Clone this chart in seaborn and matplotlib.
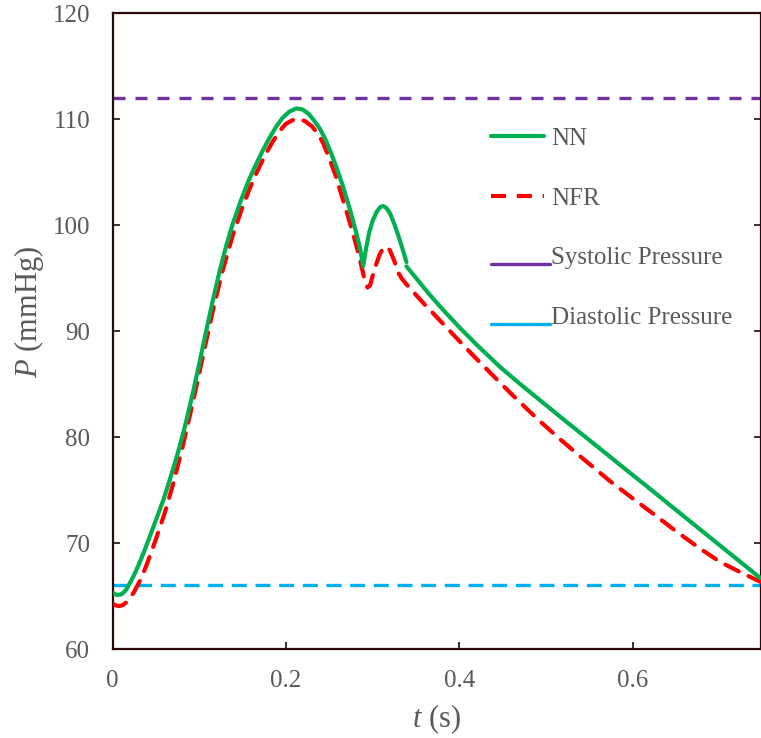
import numpy as np
import pandas as pd
import matplotlib
matplotlib.use("Agg")
import matplotlib.pyplot as plt
import seaborn as sns
from matplotlib.lines import Line2D
from matplotlib.legend_handler import HandlerLine2D

# ---------------- data ----------------
nn_t1 = [0.000, 0.005, 0.010, 0.015, 0.020, 0.025, 0.030, 0.036, 0.043, 0.050,
         0.0586, 0.066, 0.074, 0.082, 0.092, 0.100, 0.108, 0.116, 0.124, 0.131,
         0.139, 0.148, 0.157, 0.166, 0.175, 0.183, 0.189, 0.196, 0.204, 0.212,
         0.219, 0.226, 0.233, 0.239, 0.246, 0.252, 0.258, 0.266, 0.274, 0.281,
         0.286, 0.289, 0.292, 0.296, 0.300, 0.305, 0.309, 0.312, 0.316, 0.320,
         0.325, 0.330, 0.335, 0.339]
nn_p1 = [65.3, 65.1, 65.15, 65.5, 66.2, 67.0, 67.9, 69.1, 70.6, 72.15,
         74.05, 75.95, 78.1, 80.5, 83.9, 86.9, 90.0, 93.0, 95.8, 98.0,
         100.2, 102.3, 104.2, 105.8, 107.3, 108.5, 109.3, 110.1, 110.7, 111.0,
         110.9, 110.5, 109.8, 109.1, 108.0, 106.8, 105.5, 103.6, 101.4, 99.3,
         97.6, 96.1, 97.6, 99.3, 100.4, 101.3, 101.7, 101.8, 101.6, 101.1,
         100.1, 98.9, 97.6, 96.5]
nn_t2 = [0.339, 0.350, 0.365, 0.380, 0.400, 0.420, 0.447, 0.470, 0.500, 0.524,
         0.550, 0.575, 0.597, 0.620, 0.650, 0.675, 0.700, 0.725, 0.747]
nn_p2 = [96.1, 95.0, 93.5, 92.1, 90.35, 88.7, 86.6, 85.0, 83.0, 81.4,
         79.7, 78.05, 76.6, 75.1, 73.1, 71.45, 69.8, 68.15, 66.7]

nfr_t = [0.000, 0.004, 0.008, 0.012, 0.016, 0.020, 0.025, 0.032, 0.038, 0.043,
         0.050, 0.0605, 0.070, 0.080, 0.088, 0.096, 0.106, 0.116, 0.127, 0.139,
         0.150, 0.158, 0.166, 0.176, 0.185, 0.193, 0.200, 0.208, 0.215, 0.222,
         0.230, 0.237, 0.243, 0.250, 0.258, 0.266, 0.272, 0.278, 0.283, 0.288,
         0.291, 0.294, 0.297, 0.300, 0.3045, 0.308, 0.312, 0.316, 0.320, 0.325,
         0.3295, 0.334, 0.339, 0.350, 0.360, 0.370, 0.385, 0.400, 0.420, 0.443,
         0.462, 0.490, 0.516, 0.539, 0.5735, 0.600, 0.6196, 0.650, 0.677, 0.700,
         0.725, 0.747]
nfr_p = [64.3, 64.1, 64.05, 64.15, 64.4, 64.8, 65.4, 66.5, 67.65, 68.75,
         70.35, 72.9, 75.6, 78.8, 81.6, 84.5, 88.3, 92.0, 95.7, 99.1,
         101.7, 103.4, 104.9, 106.6, 107.9, 108.9, 109.55, 109.9, 110.0, 109.8,
         109.3, 108.6, 107.7, 106.3, 104.5, 102.3, 100.7, 99.0, 97.5, 95.8,
         94.7, 94.1, 94.3, 95.2, 96.4, 97.2, 97.8, 97.95, 97.6, 96.6,
         95.5, 94.9, 94.4, 93.4, 92.5, 91.65, 90.35, 89.05, 87.35, 85.45,
         83.9, 81.7, 79.8, 78.2, 75.85, 74.2, 73.0, 71.1, 69.5, 68.25,
         67.2, 66.35]

systolic = 112
diastolic = 66

x_ticks = [0, 0.2, 0.4, 0.6]
x_tick_labels = ["0", "0.2", "0.4", "0.6"]
y_ticks = [60, 70, 80, 90, 100, 110, 120]
labels = ["NN", "NFR", "Systolic Pressure", "Diastolic Pressure"]

# ---------------- style ----------------
GREEN = "#00B050"
RED = "#FF0000"
PURPLE = "#7030A0"
BLUE = "#00B0F0"
GREY = "#595959"
SPINE = "#2a0808"

sns.set_style("ticks")
plt.rcParams["font.family"] = ["Liberation Serif", "DejaVu Serif"]
plt.rcParams["mathtext.fontset"] = "custom"
plt.rcParams["mathtext.rm"] = "Liberation Serif"
plt.rcParams["mathtext.it"] = "Liberation Serif:italic"

fig = plt.figure(figsize=(7.61, 7.38), dpi=100)
ax = fig.add_axes([112.5 / 761, 89 / 738, 648.3 / 761, 636 / 738])

df_nn1 = pd.DataFrame({"t": nn_t1, "P": nn_p1})
df_nn2 = pd.DataFrame({"t": nn_t2, "P": nn_p2})
df_nfr = pd.DataFrame({"t": nfr_t, "P": nfr_p})

ax.axhline(systolic, color=PURPLE, lw=2.4, linestyle=(0, (3.6, 3.0)),
           dash_capstyle="butt", zorder=2)
ax.axhline(diastolic, color=BLUE, lw=2.4, linestyle=(0, (4.5, 2.6)),
           dash_capstyle="butt", zorder=2)

sns.lineplot(data=df_nfr, x="t", y="P", ax=ax, color=RED, lw=3.0,
             linestyle=(0, (3.6, 2.6)), dash_capstyle="round",
             sort=False, estimator=None, zorder=3)
sns.lineplot(data=df_nn1, x="t", y="P", ax=ax, color=GREEN, lw=3.0,
             sort=False, estimator=None, zorder=4, solid_capstyle="round",
             solid_joinstyle="round")
sns.lineplot(data=df_nn2, x="t", y="P", ax=ax, color=GREEN, lw=3.0,
             sort=False, estimator=None, zorder=4, solid_capstyle="round",
             solid_joinstyle="round")

ax.set_xlim(0, 0.7476)
ax.set_ylim(60, 120)
ax.set_xticks(x_ticks)
ax.set_xticklabels(x_tick_labels)
ax.set_yticks(y_ticks)

for s in ax.spines.values():
    s.set_visible(True)
    s.set_color(SPINE)
    s.set_linewidth(1.6)

ax.tick_params(axis="both", direction="in", length=5, width=1.3,
               color="#222222", labelsize=18, labelcolor=GREY)
ax.tick_params(axis="y", pad=16, right=True)
ax.tick_params(axis="x", pad=15)

ax.set_xlabel(r"$t$ (s)", fontsize=22, color=GREY)
ax.set_ylabel(r"$P$ (mmHg)", fontsize=22, color=GREY)
ax.xaxis.set_label_coords(0.5, -0.111)
ax.xaxis.label.set_va("center")
ax.yaxis.set_label_coords(-0.129, 0.53)
ax.yaxis.label.set_va("center")


class BaselineLine(HandlerLine2D):
    def create_artists(self, legend, orig_handle, xdescent, ydescent,
                       width, height, fontsize, trans):
        arts = super().create_artists(legend, orig_handle, xdescent, ydescent,
                                      width, height, fontsize, trans)
        for a in arts:
            if isinstance(a, Line2D):
                a.set_xdata([-xdescent, width - xdescent + 4.5])
                a.set_ydata([0.0, 0.0])
        return arts


h_nn = Line2D([], [], color=GREEN, lw=3.0)
h_nfr = Line2D([], [], color=RED, lw=3.0, linestyle=(0, (3.6, 2.6)))
h_sys = Line2D([], [], color=PURPLE, lw=2.4)
h_dia = Line2D([], [], color=BLUE, lw=2.4)

leg = ax.legend([h_nn, h_nfr, h_sys, h_dia], labels,
                loc="upper left", bbox_to_anchor=(0.584, 0.8196),
                frameon=False, fontsize=18, labelcolor=GREY,
                handlelength=2.1, handletextpad=0.3, labelspacing=1.48,
                borderpad=0, borderaxespad=0,
                handler_map={h_sys: BaselineLine(), h_dia: BaselineLine()})

fig.savefig("out.png", dpi=100)
